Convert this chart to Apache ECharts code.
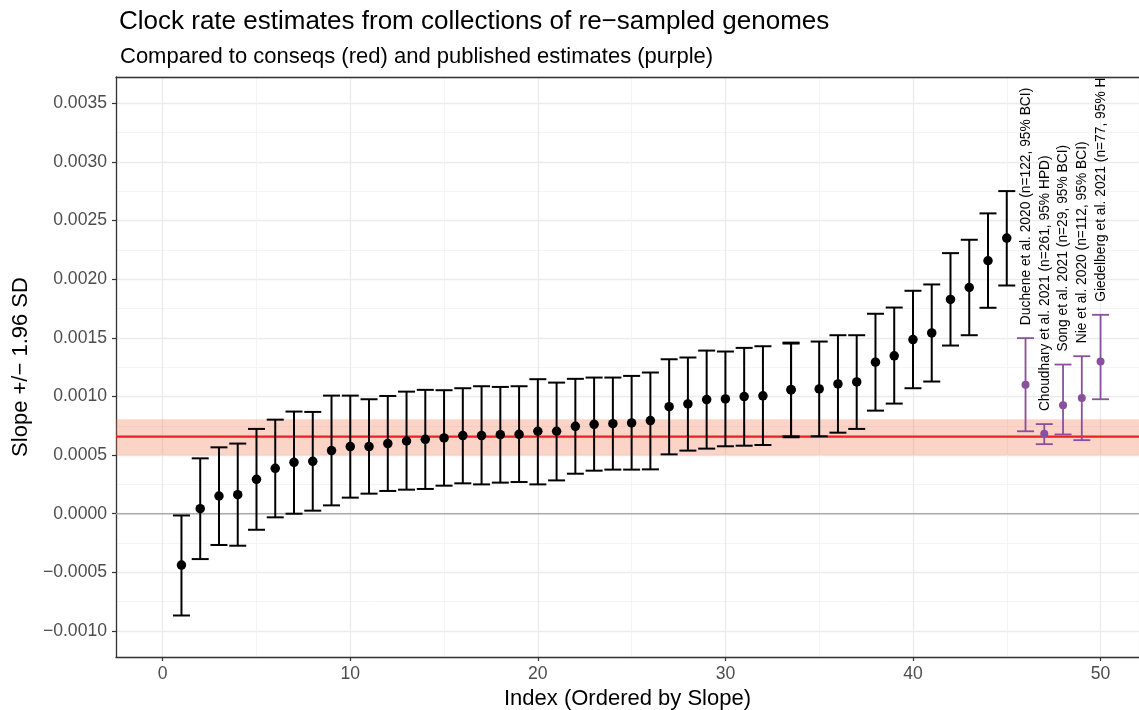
<!DOCTYPE html>
<html>
<head>
<meta charset="utf-8">
<script src="https://cdn.jsdelivr.net/npm/echarts@6/dist/echarts.min.js"></script>
<style>html,body{margin:0;padding:0;background:#fff}#c{width:1139px;height:710px}</style>
</head>
<body>
<div id="c"></div>
<script>
// ---- data ----
const idx = [1,2,3,4,5,6,7,8,9,10,11,12,13,14,15,16,17,18,19,20,21,22,23,24,25,26,27,28,29,30,31,32,33.5,33.5,35,36,37,38,39,40,41,42,43,44,45];
const slope = [-0.000438,0.000043,0.000151,0.000162,0.000293,0.000387,0.000438,0.000447,0.000538,0.000572,0.000572,0.000598,0.000620,0.000634,0.000646,0.000666,0.000666,0.000674,0.000677,0.000703,0.000703,0.000745,0.000762,0.000768,0.000774,0.000794,0.000913,0.000936,0.000973,0.000979,0.000999,0.001005,0.001056,0.001058,0.001064,0.001107,0.001124,0.001292,0.001346,0.001485,0.001542,0.001827,0.001929,0.002157,0.002350];
const lower = [-0.000868,-0.000387,-0.000267,-0.000273,-0.000137,-0.000031,0.000000,0.000026,0.000071,0.000137,0.000171,0.000194,0.000205,0.000211,0.000239,0.000259,0.000250,0.000265,0.000270,0.000250,0.000284,0.000341,0.000367,0.000376,0.000376,0.000378,0.000506,0.000538,0.000555,0.000575,0.000580,0.000586,0.000660,0.000652,0.000660,0.000691,0.000723,0.000879,0.000939,0.001070,0.001127,0.001434,0.001522,0.001756,0.001946];
const upper = [-0.000015,0.000472,0.000566,0.000598,0.000723,0.000802,0.000871,0.000868,0.001007,0.001007,0.000976,0.001004,0.001041,0.001056,0.001053,0.001070,0.001087,0.001081,0.001087,0.001147,0.001118,0.001150,0.001161,0.001161,0.001175,0.001204,0.001317,0.001332,0.001391,0.001383,0.001414,0.001428,0.001451,0.001459,0.001468,0.001522,0.001522,0.001705,0.001758,0.001901,0.001955,0.002222,0.002336,0.002561,0.002751];

const pubIdx = [46,47,48,49,50];
const pubSlope = [0.001099,0.000681,0.000924,0.000987,0.001297];
const pubLower = [0.000703,0.000593,0.000676,0.000627,0.000976];
const pubUpper = [0.001497,0.000764,0.001272,0.001343,0.001696];
const pubLabels = [
  'Duchene et al. 2020 (n=122, 95% BCI)',
  'Choudhary et al. 2021 (n=261, 95% HPD)',
  'Song et al. 2021 (n=29, 95% BCI)',
  'Nie et al. 2020 (n=112, 95% BCI)',
  'Giedelberg et al. 2021 (n=77, 95% HPD)'
];

const conseqRate = 0.000657;
const conseqLow = 0.000499;
const conseqHigh = 0.000806;
const zeroLine = 0;

const xMin = -2.49, xMax = 52.05;
const yMin = -0.001222, yMax = 0.003724;

// ---- chart ----
const FONT = 'Liberation Sans, Arial, Helvetica, sans-serif';
const PURPLE = '#8a4f9e';
const chart = echarts.init(document.getElementById('c'), null, {renderer: 'canvas'});

function fmtY(v) {
  const s = Math.abs(v).toFixed(4);
  return (v < -1e-12 ? '\u2212' : '') + s;
}

function errBar(color, lw, halfCap) {
  return function (params, api) {
    const x = api.value(0), lo = api.value(1), hi = api.value(2);
    const a = api.coord([x, lo]), b = api.coord([x, hi]);
    const st = {stroke: color, lineWidth: lw};
    return {type: 'group', children: [
      {type: 'line', shape: {x1: a[0], y1: a[1], x2: b[0], y2: b[1]}, style: st},
      {type: 'line', shape: {x1: a[0] - halfCap, y1: a[1], x2: a[0] + halfCap, y2: a[1]}, style: st},
      {type: 'line', shape: {x1: b[0] - halfCap, y1: b[1], x2: b[0] + halfCap, y2: b[1]}, style: st}
    ]};
  };
}

const option = {
  animation: false,
  backgroundColor: '#ffffff',
  title: [
    {text: 'Clock rate estimates from collections of re\u2212sampled genomes', left: 114, top: 4,
     textStyle: {fontFamily: FONT, fontSize: 26, fontWeight: 'normal', color: '#000'}},
    {text: 'Compared to conseqs (red) and published estimates (purple)', left: 115, top: 41,
     textStyle: {fontFamily: FONT, fontSize: 22, fontWeight: 'normal', color: '#000'}}
  ],
  grid: {left: 116, right: 0, top: 77, bottom: 53, containLabel: false, outerBoundsMode: 'none'},
  xAxis: [{
    type: 'value', min: xMin, max: xMax, splitNumber: 5,
    name: 'Index (Ordered by Slope)', nameLocation: 'middle', nameGap: 27,
    nameTextStyle: {fontFamily: FONT, fontSize: 22, color: '#000'},
    axisLine: {show: true, onZero: false, lineStyle: {color: '#333', width: 1.3}},
    axisTick: {show: true, length: 4, lineStyle: {color: '#333', width: 1.2}},
    axisLabel: {fontFamily: FONT, fontSize: 17.6, color: '#4d4d4d', margin: 8, showMinLabel: false, showMaxLabel: false},
    splitLine: {show: true, lineStyle: {color: '#ebebeb', width: 1.3}},
    minorTick: {show: false, splitNumber: 2},
    minorSplitLine: {show: true, lineStyle: {color: '#f1f1f1', width: 0.8}}
  }, {
    type: 'value', min: xMin, max: xMax, position: 'top',
    axisLine: {show: true, onZero: false, lineStyle: {color: '#333', width: 1.3}},
    axisTick: {show: false}, axisLabel: {show: false}, splitLine: {show: false}
  }],
  yAxis: {
    type: 'value', min: yMin, max: yMax, splitNumber: 10,
    name: 'Slope +/\u2212 1.96 SD', nameLocation: 'middle', nameGap: 80,
    nameTextStyle: {fontFamily: FONT, fontSize: 22, color: '#000'},
    axisLine: {show: true, onZero: false, lineStyle: {color: '#333', width: 1.3}},
    axisTick: {show: true, length: 4, lineStyle: {color: '#333', width: 1.2}},
    axisLabel: {fontFamily: FONT, fontSize: 17.6, color: '#4d4d4d', margin: 9, formatter: fmtY,
                showMinLabel: false, showMaxLabel: false},
    splitLine: {show: true, lineStyle: {color: '#ebebeb', width: 1.3}},
    minorTick: {show: false, splitNumber: 2},
    minorSplitLine: {show: true, lineStyle: {color: '#f1f1f1', width: 0.8}}
  },
  series: [
    {
      type: 'custom', name: 'reference', z: 1, silent: true,
      data: [[zeroLine, conseqLow, conseqHigh, conseqRate]],
      renderItem: function (params, api) {
        const cs = params.coordSys;
        const y0 = api.coord([0, api.value(0)])[1];
        const yl = api.coord([0, api.value(1)])[1];
        const yh = api.coord([0, api.value(2)])[1];
        const yr = api.coord([0, api.value(3)])[1];
        return {type: 'group', children: [
          {type: 'line', shape: {x1: cs.x, y1: y0, x2: cs.x + cs.width, y2: y0}, style: {stroke: '#ababab', lineWidth: 1.6}},
          {type: 'rect', shape: {x: cs.x, y: yh, width: cs.width, height: yl - yh}, style: {fill: 'rgba(245,110,70,0.30)'}},
          {type: 'line', shape: {x1: cs.x, y1: yr, x2: cs.x + cs.width, y2: yr}, style: {stroke: '#ec1f24', lineWidth: 2.2}}
        ]};
      }
    },
    {
      type: 'custom', name: 'resampled CI', z: 3, silent: true,
      data: idx.map((x, i) => [x, lower[i], upper[i]]),
      renderItem: errBar('#000', 2, 8.5)
    },
    {
      type: 'scatter', name: 'resampled', z: 4, silent: true,
      symbolSize: 9.5, itemStyle: {color: '#000', opacity: 1},
      data: idx.map((x, i) => [x, slope[i]])
    },
    {
      type: 'custom', name: 'published CI', z: 3, silent: true,
      data: pubIdx.map((x, i) => [x, pubLower[i], pubUpper[i]]),
      renderItem: errBar(PURPLE, 1.8, 8.5)
    },
    {
      type: 'scatter', name: 'published', z: 4, silent: true,
      symbolSize: 8, itemStyle: {color: PURPLE, opacity: 1},
      data: pubIdx.map((x, i) => [x, pubSlope[i]])
    },
    {
      type: 'custom', name: 'labels', z: 5, silent: true, clip: true,
      data: pubIdx.map((x, i) => [x, pubUpper[i], i]),
      renderItem: function (params, api) {
        const p = api.coord([api.value(0), api.value(1)]);
        return {type: 'text', x: p[0] + 0.5, y: p[1] - 13, rotation: Math.PI / 2,
          style: {text: pubLabels[api.value(2)], fontFamily: FONT, fontSize: 13.8, fill: '#000',
                  align: 'left', verticalAlign: 'middle'}};
      }
    }
  ]
};
chart.setOption(option);
</script>
</body>
</html>
